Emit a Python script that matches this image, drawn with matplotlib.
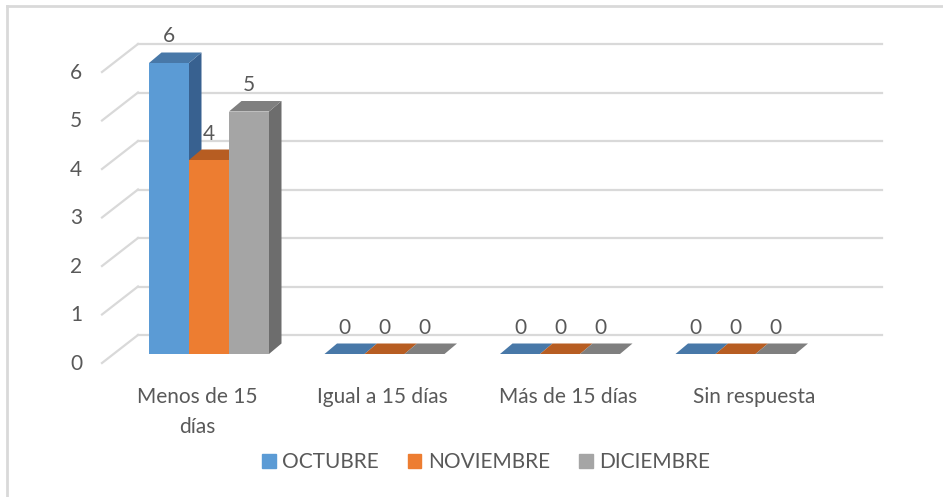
import matplotlib
matplotlib.use("Agg")
import matplotlib.pyplot as plt
from matplotlib.patches import Polygon, Patch
from matplotlib.lines import Line2D

# data
categories = ["Menos de 15\ndías", "Igual a 15 días", "Más de 15 días", "Sin respuesta"]
series = ["OCTUBRE", "NOVIEMBRE", "DICIEMBRE"]
octubre = [6, 0, 0, 0]
noviembre = [4, 0, 0, 0]
diciembre = [5, 0, 0, 0]
values = [octubre, noviembre, diciembre]
yticks = [0, 1, 2, 3, 4, 5, 6]

front_col = ["#5b9bd5", "#ed7d31", "#a5a5a5"]
top_col = ["#4878a8", "#b75d22", "#7f7f7f"]
side_col = ["#386190", "#a0501c", "#6d6d6d"]
txt = "#595959"
grid = "#d9d9d9"
fs = 15

W, H = 943, 497
fig = plt.figure(figsize=(W / 100, H / 100), dpi=100)
plt.rcParams["font.family"] = ["Lato", "DejaVu Sans"]

# axes placed so that 1 category = 175.5 px, 1 unit = 48.5 px
xpx, ypx = 175.5, 48.5
x0, y0 = 209, 354
ax = fig.add_axes([(x0 - 0.5 * xpx) / W, (H - y0) / H, 4 * xpx / W, 6 * ypx / H])
ax.set_xlim(-0.5, 3.5)
ax.set_ylim(0, 6)
ax.axis("off")

def px(dx, dy):
    # pixel offsets -> data offsets (dy positive = up)
    return dx / xpx, dy / ypx

# back wall gridlines + diagonal floor/wall ticks
bx0, by = px(138 - x0, 19)
bx1, _ = px(882 - x0, 0)
fx, fy = px(102 - x0, -9)
lx, _ = px(76 - x0, 0)
for v in yticks:
    ax.add_line(Line2D([bx0, bx1], [v + by, v + by], color=grid, lw=1.6, clip_on=False, zorder=1))
    ax.add_line(Line2D([fx, bx0], [v + fy, v + by], color=grid, lw=1.6, clip_on=False, zorder=1))
    ax.text(lx, v + fy - 0.02, str(v), ha="center", va="center", fontsize=fs, color=txt, clip_on=False)

# 3d-looking bars
bw = 40 / xpx
ddx, ddy = px(12.5, 10.5)
for i in range(len(categories)):
    for s in range(len(series)):
        v = values[s][i]
        xl = i + (s - 1.5) * bw
        xr = xl + bw
        side = Polygon([(xr, 0), (xr + ddx, ddy), (xr + ddx, v + ddy), (xr, v)],
                       closed=True, fc=side_col[s], ec="none", clip_on=False, zorder=3)
        top = Polygon([(xl, v), (xr, v), (xr + ddx, v + ddy), (xl + ddx, v + ddy)],
                      closed=True, fc=top_col[s], ec="none", clip_on=False, zorder=3)
        ax.add_patch(side)
        ax.add_patch(top)
        ax.bar(xl, v, width=bw, align="edge", color=front_col[s], zorder=3, clip_on=False)
        ax.text((xl + xr) / 2, v + ddy + 16 / ypx, str(v), ha="center", va="center",
                fontsize=fs, color=txt, clip_on=False, zorder=4)

# category labels on the front plane (slightly wider than the bars' plane)
for i, c in enumerate(categories):
    cx, _ = px(197 - x0 + 185.7 * i, 0)
    for j, line in enumerate(c.split("\n")):
        ax.text(cx, -(403 + 30 * j - y0) / ypx, line, ha="center", va="baseline",
                fontsize=fs, color=txt, clip_on=False)

# legend
handles = [Patch(color=front_col[s], label=series[s]) for s in range(len(series))]
fig.legend(handles=handles, loc="center", bbox_to_anchor=(486 / W, 1 - 462 / H), ncol=3,
           frameon=False, fontsize=fs, handlelength=0.65, handleheight=0.65,
           handletextpad=0.3, columnspacing=1.4, labelcolor=txt)

# chart border (only left and top visible)
fig.add_artist(Line2D([7 / W, 7 / W], [0, 1 - 6 / H], color=grid, lw=2))
fig.add_artist(Line2D([7 / W, 1], [1 - 6 / H, 1 - 6 / H], color=grid, lw=2))

fig.savefig("out.png", dpi=100)
